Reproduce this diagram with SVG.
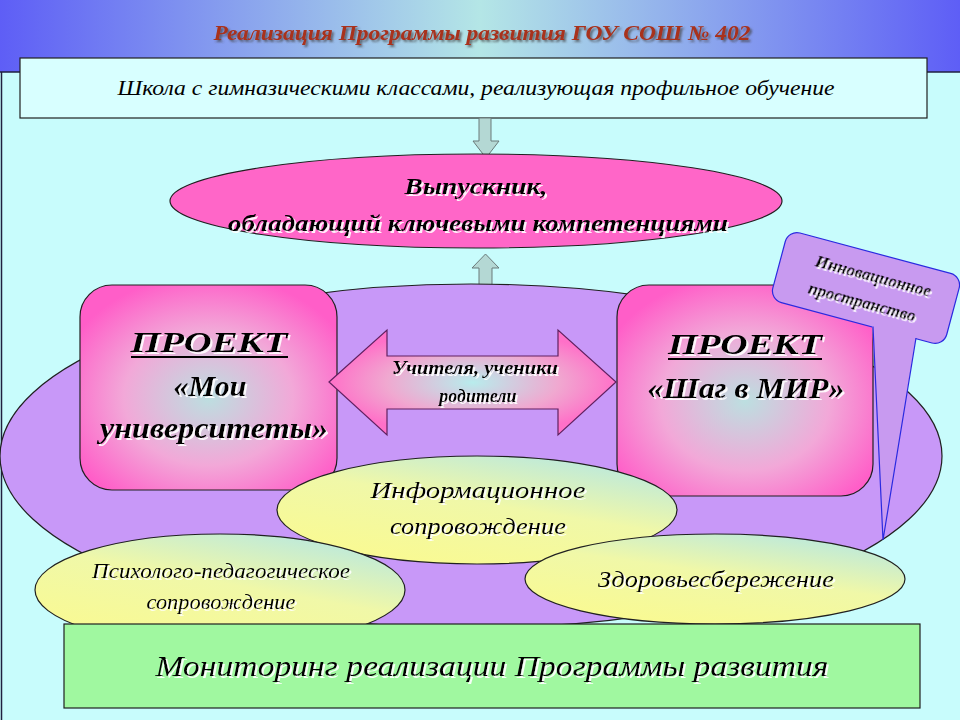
<svg xmlns="http://www.w3.org/2000/svg" width="960" height="720" viewBox="0 0 960 720">
<defs>
<linearGradient id="band" x1="0" y1="0" x2="1" y2="0">
<stop offset="0" stop-color="#5e5ef6"/><stop offset="0.5" stop-color="#b4e6e6"/><stop offset="1" stop-color="#5e5ef6"/>
</linearGradient>
<radialGradient id="pinkrect" cx="0.5" cy="0.55" r="0.6">
<stop offset="0" stop-color="#bcdfe0"/><stop offset="0.55" stop-color="#f2a8d8"/><stop offset="1" stop-color="#ff5ec8"/>
</radialGradient>
<radialGradient id="arrowg" cx="0.5" cy="0.5" r="0.5">
<stop offset="0" stop-color="#b8ecec"/><stop offset="0.6" stop-color="#f0a8d0"/><stop offset="1" stop-color="#ff70c8"/>
</radialGradient>
<linearGradient id="yel" x1="0.2" y1="1" x2="0.8" y2="0">
<stop offset="0" stop-color="#fafa90"/><stop offset="0.55" stop-color="#f0f8a8"/><stop offset="1" stop-color="#b8e8e0"/>
</linearGradient>
<filter id="sh" x="-10%" y="-30%" width="120%" height="160%">
<feDropShadow dx="2" dy="2" stdDeviation="0.6" flood-color="#ffffff" flood-opacity="0.9"/>
</filter>
<filter id="shd" x="-10%" y="-30%" width="120%" height="160%">
<feDropShadow dx="2" dy="2" stdDeviation="0.8" flood-color="#404040" flood-opacity="0.7"/>
</filter>
</defs>
<style>
.t{font-family:"Liberation Serif","DejaVu Serif",serif;font-style:italic;fill:#000;text-anchor:middle}
.b{font-weight:bold}
.ol{stroke:#202020;stroke-width:1.2}
.bl{stroke:#2a2ae0;stroke-width:1.2}
</style>
<rect x="0" y="0" width="960" height="720" fill="#c8fcfc"/>
<rect x="0" y="0" width="960" height="72" fill="url(#band)"/>
<line x1="0" y1="72" x2="960" y2="72" stroke="#202040" stroke-width="1.5"/>
<line x1="1.5" y1="72" x2="1.5" y2="720" stroke="#202040" stroke-width="1.5"/>
<text class="t b" x="482" y="40" font-size="21" style="fill:#a8301a" filter="url(#shd)" textLength="537" lengthAdjust="spacingAndGlyphs">Реализация Программы развития ГОУ СОШ № 402</text>

<g id="school">
<rect x="20" y="58" width="907" height="60" fill="#d8ffff" class="ol"/>
<text class="t" x="476" y="95" font-size="22" textLength="717" lengthAdjust="spacingAndGlyphs">Школа с гимназическими классами, реализующая профильное обучение</text>
</g>

<g id="connectors" fill="#b4d8d4" stroke="#6a7a7a" stroke-width="1">
<path d="M479,118 L491,118 L491,141 L499,141 L486,158 L473,141 L479,141 Z"/>
<path d="M479,285 L492,285 L492,268 L499,268 L485.5,254 L472,268 L479,268 Z"/>
</g>

<g id="graduate">
<ellipse cx="476" cy="201" rx="306" ry="47" fill="#ff66c8" class="ol"/>
<text class="t b" x="476" y="194" font-size="24" filter="url(#sh)" textLength="143" lengthAdjust="spacingAndGlyphs">Выпускник,</text>
<text class="t b" x="478" y="231" font-size="24" filter="url(#sh)" textLength="500" lengthAdjust="spacingAndGlyphs">обладающий ключевыми компетенциями</text>
</g>

<g id="space">
<ellipse cx="471" cy="456" rx="471" ry="172" fill="#c898f8" class="ol"/>
</g>

<g id="project1">
<rect x="80" y="285" width="257" height="205" rx="32" fill="url(#pinkrect)" class="ol"/>
<text class="t b" x="209" y="352" font-size="30" filter="url(#sh)" textLength="157" lengthAdjust="spacingAndGlyphs">ПРОЕКТ</text>
<line x1="131" y1="357" x2="288" y2="357" stroke="#000" stroke-width="2"/>
<text class="t b" x="210" y="396" font-size="30" filter="url(#sh)">«Мои</text>
<text class="t b" x="214" y="438" font-size="30" filter="url(#sh)" textLength="228" lengthAdjust="spacingAndGlyphs">университеты»</text>
</g>

<g id="project2">
<rect x="617" y="285" width="256" height="211" rx="32" fill="url(#pinkrect)" class="ol"/>
<text class="t b" x="745" y="354" font-size="30" filter="url(#sh)" textLength="154" lengthAdjust="spacingAndGlyphs">ПРОЕКТ</text>
<line x1="668" y1="359" x2="822" y2="359" stroke="#000" stroke-width="2"/>
<text class="t b" x="746" y="398" font-size="30" filter="url(#sh)" textLength="197" lengthAdjust="spacingAndGlyphs">«Шаг в МИР»</text>
</g>

<g id="people">
<path d="M329,382 L387,330 L387,356 L558,356 L558,330 L616,382 L558,435 L558,409 L387,409 L387,435 Z" fill="url(#arrowg)" stroke="#602060" stroke-width="1.2"/>
<text class="t b" x="475" y="374" font-size="18" filter="url(#sh)" textLength="166" lengthAdjust="spacingAndGlyphs">Учителя, ученики</text>
<text class="t b" x="478" y="402" font-size="18" filter="url(#sh)">родители</text>
</g>

<g id="innovation">
<rect x="-90" y="-36" width="180" height="72" rx="12" fill="#c89af0" class="bl" transform="translate(866 288) rotate(15)"/>
<path d="M872,322 L883,538 L917,331 Z" fill="#c89af0"/>
<path d="M873,326.5 L883,540 L916,338" fill="none" class="bl"/>
<g transform="translate(866 288) rotate(15)">
<text class="t b" x="4" y="-8" font-size="17" filter="url(#sh)">Инновационное</text>
<text class="t b" x="0" y="20" font-size="17" filter="url(#sh)">пространство</text>
</g>
</g>

<g id="info">
<ellipse cx="477" cy="510" rx="200" ry="54" fill="url(#yel)" class="ol"/>
<text class="t" x="478" y="498" font-size="23" filter="url(#sh)" textLength="215" lengthAdjust="spacingAndGlyphs">Информационное</text>
<text class="t" x="478" y="534" font-size="23" filter="url(#sh)" textLength="176" lengthAdjust="spacingAndGlyphs">сопровождение</text>
</g>

<g id="psych">
<ellipse cx="220" cy="590" rx="185" ry="56" fill="url(#yel)" class="ol"/>
<text class="t" x="221" y="578" font-size="20" filter="url(#sh)" textLength="258" lengthAdjust="spacingAndGlyphs">Психолого-педагогическое</text>
<text class="t" x="221" y="609" font-size="20" filter="url(#sh)" textLength="149" lengthAdjust="spacingAndGlyphs">сопровождение</text>
</g>

<g id="health">
<ellipse cx="715" cy="579" rx="190" ry="45" fill="url(#yel)" class="ol"/>
<text class="t" x="716" y="587" font-size="23" filter="url(#sh)" textLength="236" lengthAdjust="spacingAndGlyphs">Здоровьесбережение</text>
</g>

<g id="monitoring">
<rect x="64" y="624" width="856" height="84" fill="#a0f8a0" class="ol"/>
<text class="t" x="492" y="676" font-size="29" filter="url(#sh)" textLength="673" lengthAdjust="spacingAndGlyphs">Мониторинг реализации Программы развития</text>
</g>
</svg>
